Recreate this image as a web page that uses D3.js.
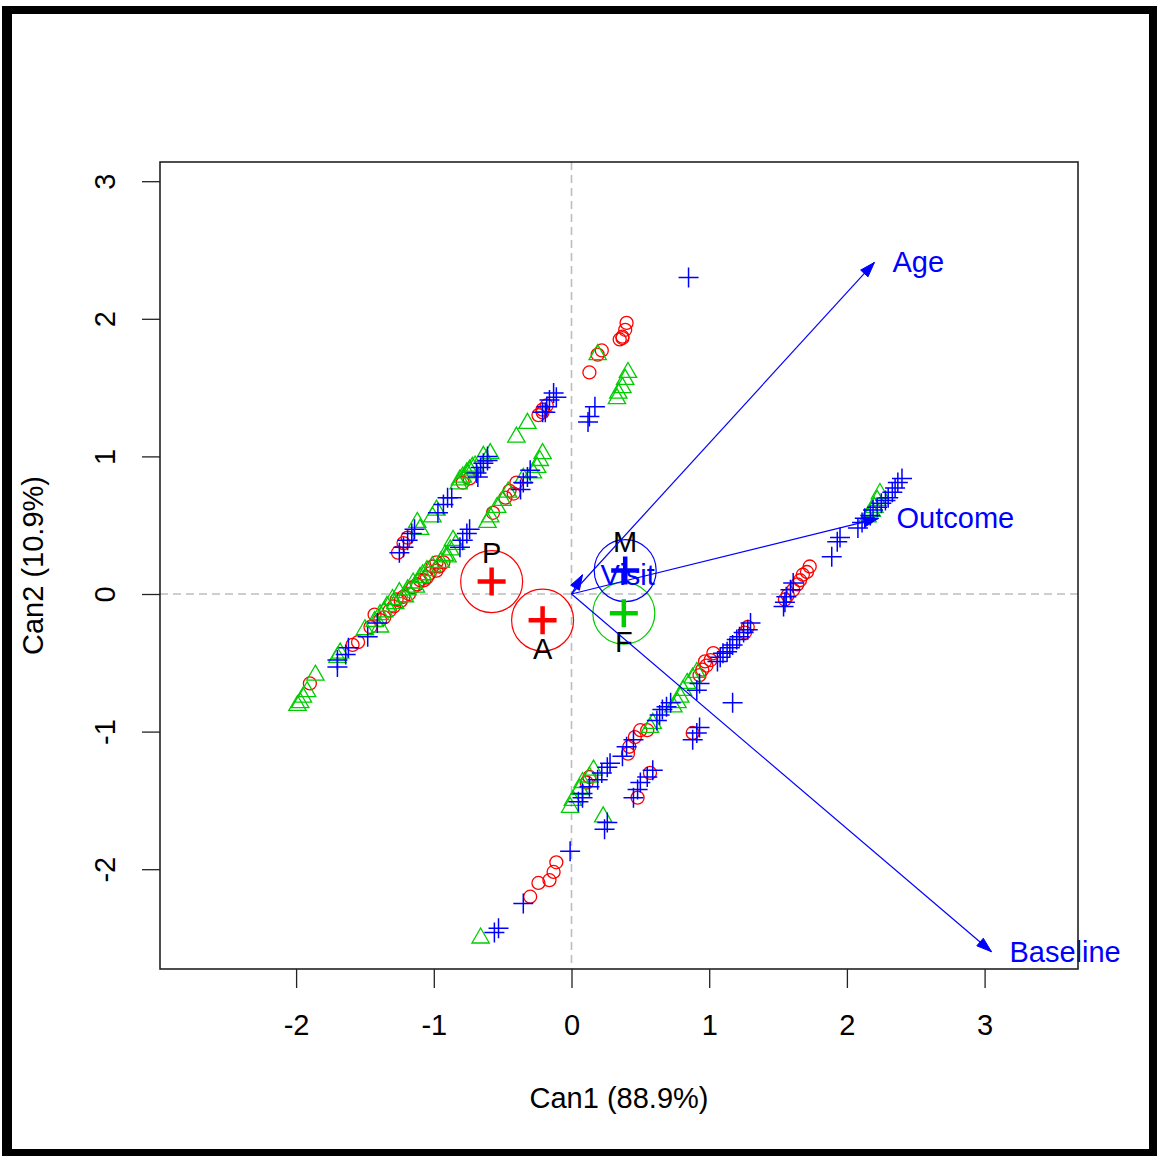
<!DOCTYPE html>
<html>
<head>
<meta charset="utf-8">
<script src="https://cdn.jsdelivr.net/npm/d3@7"></script>
<style>
  body { margin: 0; background: #fff; }
  text { font-family: "Liberation Sans", Arial, sans-serif; }
</style>
</head>
<body>
<svg id="chart" width="1159" height="1156"></svg>
<script>
// Axis ticks and titles
const xTicks = [-2, -1, 0, 1, 2, 3];
const yTicks = [-2, -1, 0, 1, 2, 3];
const xTitle = "Can1 (88.9%)";
const yTitle = "Can2 (10.9%)";

// Group means on the two canonical dimensions (A, F, M, P)
const groupLevels = ["A", "F", "M", "P"];
const groupColors = ["#FF0000", "#00CD00", "#0000FF", "#FF0000"];
const groupMeans = [[-0.21, -0.19], [0.38, -0.14], [0.39, 0.17], [-0.58, 0.09]];
const meanRadius = 0.225;

// Canonical scores: red circles (groups A and P)
const scoresAP = [
  [-1.90,-0.65],[-1.59,-0.37],[-1.55,-0.35],[-1.46,-0.24],[-1.39,-0.19],[-1.32,-0.12],
  [-1.22,-0.02],[-1.15,0.05],[-1.05,0.12],[-0.98,0.17],[-0.93,0.23],[-1.03,0.15],
  [-1.01,0.20],[-0.98,0.23],[-1.10,0.10],[-1.27,-0.04],[-1.43,-0.15],
  [-1.36,-0.17],[-1.29,-0.09],[-1.24,-0.05],[-1.18,0.00],[-1.12,0.07],[-1.07,0.10],[-0.96,0.20],
  [-0.57,0.59],[-0.40,0.81],[-0.42,0.73],[-0.48,0.70],[-0.45,0.75],
  [-1.26,0.30],[-1.22,0.37],[-1.19,0.41],[-0.79,0.81],[-0.74,0.84],
  [-0.21,1.34],[-0.18,1.37],[-0.24,1.30],[-0.21,1.32],
  [0.40,1.97],[0.39,1.92],[0.37,1.87],[0.35,1.85],[0.37,1.86],[0.22,1.77],[0.19,1.74],[0.13,1.61],
  [1.73,0.20],[1.71,0.16],[1.68,0.14],[1.66,0.10],[1.64,0.07],[1.61,0.03],[1.57,-0.01],[1.55,-0.04],
  [1.28,-0.24],[1.26,-0.28],[1.03,-0.43],[1.01,-0.48],[0.98,-0.52],[0.95,-0.55],[0.93,-0.59],[0.97,-0.49],
  [0.55,-0.99],[0.50,-0.99],[0.46,-1.04],[0.42,-1.11],[0.41,-1.16],[0.13,-1.33],[0.11,-1.37],
  [0.88,-1.01],[0.57,-1.30],[0.48,-1.48],
  [-0.11,-1.95],[-0.13,-2.02],[-0.16,-2.08],[-0.24,-2.10],[-0.30,-2.20]
];

// Canonical scores: green triangles (group F)
const scoresF = [
  [-1.97,-0.79],[-1.95,-0.75],[-1.92,-0.71],[-1.86,-0.59],[-1.99,-0.81],[-1.70,-0.46],[-1.68,-0.43],
  [-1.34,-0.09],[-1.30,-0.04],[-1.25,0.01],[-1.19,0.03],[-1.15,0.08],[-1.10,0.12],[-1.05,0.17],
  [-1.01,0.20],[-0.95,0.23],[-1.39,-0.15],[-1.39,-0.24],[-1.50,-0.26],
  [-1.43,-0.20],[-1.36,-0.13],[-1.28,-0.07],[-1.21,-0.02],[-1.13,0.05],[-1.08,0.14],
  [-0.86,0.39],[-0.88,0.32],[-0.90,0.27],[-0.92,0.28],[-0.84,0.36],
  [-0.59,0.56],[-0.61,0.52],[-0.54,0.63],[-0.50,0.68],[-0.46,0.74],[-0.35,0.84],
  [-0.28,0.88],[-0.25,0.92],[-0.23,0.97],[-0.21,1.02],[-0.32,1.24],[-0.40,1.14],
  [-1.12,0.52],[-1.10,0.47],[-1.01,0.56],[-0.98,0.61],[-0.81,0.83],[-0.79,0.85],[-0.76,0.88],
  [-0.74,0.90],[-0.72,0.92],[-0.64,1.00],[-0.59,1.02],[-0.82,0.80],[-0.70,0.93],
  [0.19,1.74],[0.41,1.61],[0.39,1.56],[0.37,1.50],[0.34,1.46],[0.33,1.42],
  [2.24,0.73],[2.22,0.68],[2.20,0.63],[2.18,0.60],[2.15,0.56],
  [0.91,-0.57],[0.88,-0.61],[0.84,-0.65],[0.81,-0.70],[0.79,-0.75],[0.77,-0.79],[0.74,-0.82],
  [0.59,-0.94],[0.57,-0.97],[0.16,-1.28],[0.13,-1.33],[0.08,-1.37],[0.06,-1.42],[0.01,-1.50],
  [-0.01,-1.55],[0.23,-1.62],[-0.66,-2.50]
];

// Canonical scores: blue plus signs (group M)
const scoresM = [
  [0.85,2.30],
  [-1.70,-0.53],[-1.70,-0.48],[-1.64,-0.44],[-1.62,-0.39],[-1.48,-0.31],[-1.41,-0.21],
  [-0.30,0.90],[-0.32,0.85],[-0.35,0.81],[-0.37,0.76],[-0.74,0.47],[-0.76,0.44],[-0.79,0.39],[-0.81,0.34],
  [-1.25,0.30],[-1.22,0.34],[-1.19,0.39],[-1.16,0.44],[-1.14,0.47],[-0.97,0.59],[-0.93,0.65],
  [-0.90,0.70],[-0.87,0.70],[-0.69,0.88],[-0.66,0.92],[-0.64,0.95],[-0.61,0.97],[-0.61,1.00],[-0.68,0.85],
  [-0.13,1.46],[-0.11,1.43],[-0.16,1.41],[-0.18,1.36],[-0.21,1.32],[-0.19,1.32],
  [0.17,1.36],[0.13,1.29],[0.12,1.25],
  [2.40,0.84],[2.37,0.81],[2.35,0.77],[2.33,0.74],[2.30,0.70],[2.28,0.68],[2.25,0.66],[2.22,0.63],
  [2.19,0.61],[2.17,0.57],[2.13,0.55],[2.11,0.52],[2.08,0.48],[1.95,0.41],[1.93,0.38],[1.89,0.27],
  [1.61,0.08],[1.59,0.03],[1.56,-0.02],[1.55,-0.06],[1.54,-0.09],
  [1.30,-0.21],[1.28,-0.26],[1.25,-0.28],[1.22,-0.31],[1.20,-0.33],[1.17,-0.37],[1.15,-0.39],
  [1.13,-0.42],[1.10,-0.43],[1.08,-0.46],[1.06,-0.49],[0.93,-0.65],[0.91,-0.70],
  [0.72,-0.79],[0.69,-0.82],[0.66,-0.84],[0.64,-0.88],[0.62,-0.92],
  [0.45,-1.06],[0.40,-1.11],[0.37,-1.18],[0.28,-1.23],[0.26,-1.26],[0.22,-1.30],[0.19,-1.35],
  [0.13,-1.40],[0.08,-1.45],[0.08,-1.48],[0.05,-1.51],
  [1.17,-0.79],[0.93,-0.97],[0.91,-1.01],[0.88,-1.06],
  [0.59,-1.28],[0.55,-1.33],[0.50,-1.37],[0.48,-1.42],[0.45,-1.48],[0.26,-1.66],[0.24,-1.71],
  [-0.01,-1.87],[-0.35,-2.25],[-0.53,-2.43],[-0.56,-2.46]
];

// Structure coefficients (variable vectors)
const varNames = ["Age", "Outcome", "Baseline", "Visit"];
const varVectors = [[2.20, 2.41], [2.23, 0.55], [3.05, -2.60], [0.08, 0.14]];

// ---------------------------------------------------------------
const svg = d3.select("#chart");
const W = 1159, H = 1156;
const plot = { left: 160, right: 1078, top: 162, bottom: 969 };

const x = d3.scaleLinear().domain([-2.9884, 3.6783]).range([plot.left, plot.right]);
const y = d3.scaleLinear().domain([-2.7253, 3.1395]).range([plot.bottom, plot.top]);

svg.append("rect").attr("width", W).attr("height", H).attr("fill", "#fff");

// outer frame
const frame = svg.append("g").attr("fill", "#000");
frame.append("rect").attr("x", 2).attr("y", 6).attr("width", 1155).attr("height", 8);
frame.append("rect").attr("x", 2).attr("y", 1149).attr("width", 1155).attr("height", 7);
frame.append("rect").attr("x", 2).attr("y", 6).attr("width", 10).attr("height", 1150);
frame.append("rect").attr("x", 1149).attr("y", 6).attr("width", 8).attr("height", 1150);

svg.append("defs").append("clipPath").attr("id", "plotClip")
  .append("rect").attr("x", plot.left).attr("y", plot.top)
  .attr("width", plot.right - plot.left).attr("height", plot.bottom - plot.top);

// axes (plain hyphen-minus in tick labels)
const tickFmt = d => String(d);
const xAxis = d3.axisBottom(x).tickValues(xTicks).tickSize(19).tickFormat(tickFmt);
const gx = svg.append("g").attr("transform", `translate(0,${plot.bottom})`).call(xAxis);
gx.select(".domain").remove();
gx.selectAll(".tick line").attr("stroke", "#222").attr("stroke-width", 1.3);
gx.selectAll(".tick text").attr("font-size", 29).attr("fill", "#000")
  .attr("dy", null).attr("y", 56).attr("dominant-baseline", "central")
  .attr("font-family", '"Liberation Sans", Arial, sans-serif');

const yAxis = d3.axisLeft(y).tickValues(yTicks).tickSize(18).tickFormat(tickFmt);
const gy = svg.append("g").attr("transform", `translate(${plot.left},0)`).call(yAxis);
gy.select(".domain").remove();
gy.selectAll(".tick line").attr("stroke", "#222").attr("stroke-width", 1.3);
gy.selectAll(".tick text").attr("font-size", 29).attr("fill", "#000")
  .attr("x", null).attr("dy", null)
  .attr("text-anchor", "middle").attr("dominant-baseline", "central")
  .attr("transform", "translate(-55,0) rotate(-90)")
  .attr("font-family", '"Liberation Sans", Arial, sans-serif');

// axis titles
svg.append("text").attr("x", (plot.left + plot.right) / 2).attr("y", 1098)
  .attr("text-anchor", "middle").attr("dominant-baseline", "central")
  .attr("font-size", 29).text(xTitle);
svg.append("text")
  .attr("transform", `translate(33,${(plot.top + plot.bottom) / 2}) rotate(-90)`)
  .attr("text-anchor", "middle").attr("dominant-baseline", "central")
  .attr("font-size", 29).text(yTitle);

const inner = svg.append("g").attr("clip-path", "url(#plotClip)");

// reference lines through the origin
inner.append("line").attr("x1", x(0)).attr("x2", x(0)).attr("y1", plot.top).attr("y2", plot.bottom)
  .attr("stroke", "#bdbdbd").attr("stroke-width", 1.6).attr("stroke-dasharray", "8,5");
inner.append("line").attr("y1", y(0)).attr("y2", y(0)).attr("x1", plot.left).attr("x2", plot.right)
  .attr("stroke", "#bdbdbd").attr("stroke-width", 1.6).attr("stroke-dasharray", "8,5");

// score points
inner.append("g").selectAll("circle").data(scoresAP).join("circle")
  .attr("cx", d => x(d[0])).attr("cy", d => y(d[1])).attr("r", 6.5)
  .attr("fill", "none").attr("stroke", groupColors[0]).attr("stroke-width", 1.3);

const triR = 10;
const triPath = `M0,${-triR}L${triR * Math.sqrt(3) / 2},${triR / 2}L${-triR * Math.sqrt(3) / 2},${triR / 2}Z`;
inner.append("g").selectAll("path").data(scoresF).join("path")
  .attr("transform", d => `translate(${x(d[0])},${y(d[1])})`).attr("d", triPath)
  .attr("fill", "none").attr("stroke", groupColors[1]).attr("stroke-width", 1.3);

const plusR = 10;
const plusPath = `M${-plusR},0H${plusR}M0,${-plusR}V${plusR}`;
inner.append("g").selectAll("path").data(scoresM).join("path")
  .attr("transform", d => `translate(${x(d[0])},${y(d[1])})`).attr("d", plusPath)
  .attr("fill", "none").attr("stroke", groupColors[2]).attr("stroke-width", 1.5);

// group means: circle, bold plus, label
const means = groupLevels.map((g, i) => ({ g, c: groupColors[i], m: groupMeans[i] }));
const kPx = x(1) - x(0);
inner.append("g").selectAll("circle").data(means).join("circle")
  .attr("cx", d => x(d.m[0])).attr("cy", d => y(d.m[1])).attr("r", meanRadius * kPx)
  .attr("fill", "none").attr("stroke", d => d.c).attr("stroke-width", 1.2);
inner.append("g").selectAll("path").data(means).join("path")
  .attr("transform", d => `translate(${x(d.m[0])},${y(d.m[1])})`)
  .attr("d", "M-14,0H14M0,-14V14")
  .attr("stroke", d => d.c).attr("stroke-width", 4.5).attr("fill", "none");
inner.append("g").selectAll("text").data(means).join("text")
  .attr("x", d => x(d.m[0]))
  .attr("y", d => y(d.m[1]) + (d.m[1] > 0 ? -29 : 29))
  .attr("text-anchor", "middle").attr("dominant-baseline", "central")
  .attr("font-size", 29).attr("fill", "#000").text(d => d.g);

// variable vectors with filled heads
const vecs = varNames.map((n, i) => ({ n, v: varVectors[i] }));
const vg = svg.append("g");
vecs.forEach(d => {
  const x0 = x(0), y0 = y(0), x1 = x(d.v[0]), y1 = y(d.v[1]);
  vg.append("line").attr("x1", x0).attr("y1", y0).attr("x2", x1).attr("y2", y1)
    .attr("stroke", "#0000FF").attr("stroke-width", 1.2);
  const ang = Math.atan2(y1 - y0, x1 - x0);
  const L = 15, hw = 5;
  const bx = x1 - L * Math.cos(ang), by = y1 - L * Math.sin(ang);
  const px = -Math.sin(ang) * hw, py = Math.cos(ang) * hw;
  vg.append("path")
    .attr("d", `M${x1},${y1}L${bx + px},${by + py}L${bx - px},${by - py}Z`)
    .attr("fill", "#0000FF").attr("stroke", "#0000FF").attr("stroke-width", 1);
  vg.append("text").attr("x", x1 + 18).attr("y", y1)
    .attr("text-anchor", "start").attr("dominant-baseline", "central")
    .attr("font-size", 29).attr("fill", "#0000FF").text(d.n);
});

// plot box
svg.append("rect").attr("x", plot.left).attr("y", plot.top)
  .attr("width", plot.right - plot.left).attr("height", plot.bottom - plot.top)
  .attr("fill", "none").attr("stroke", "#222").attr("stroke-width", 1.6);
</script>
</body>
</html>
